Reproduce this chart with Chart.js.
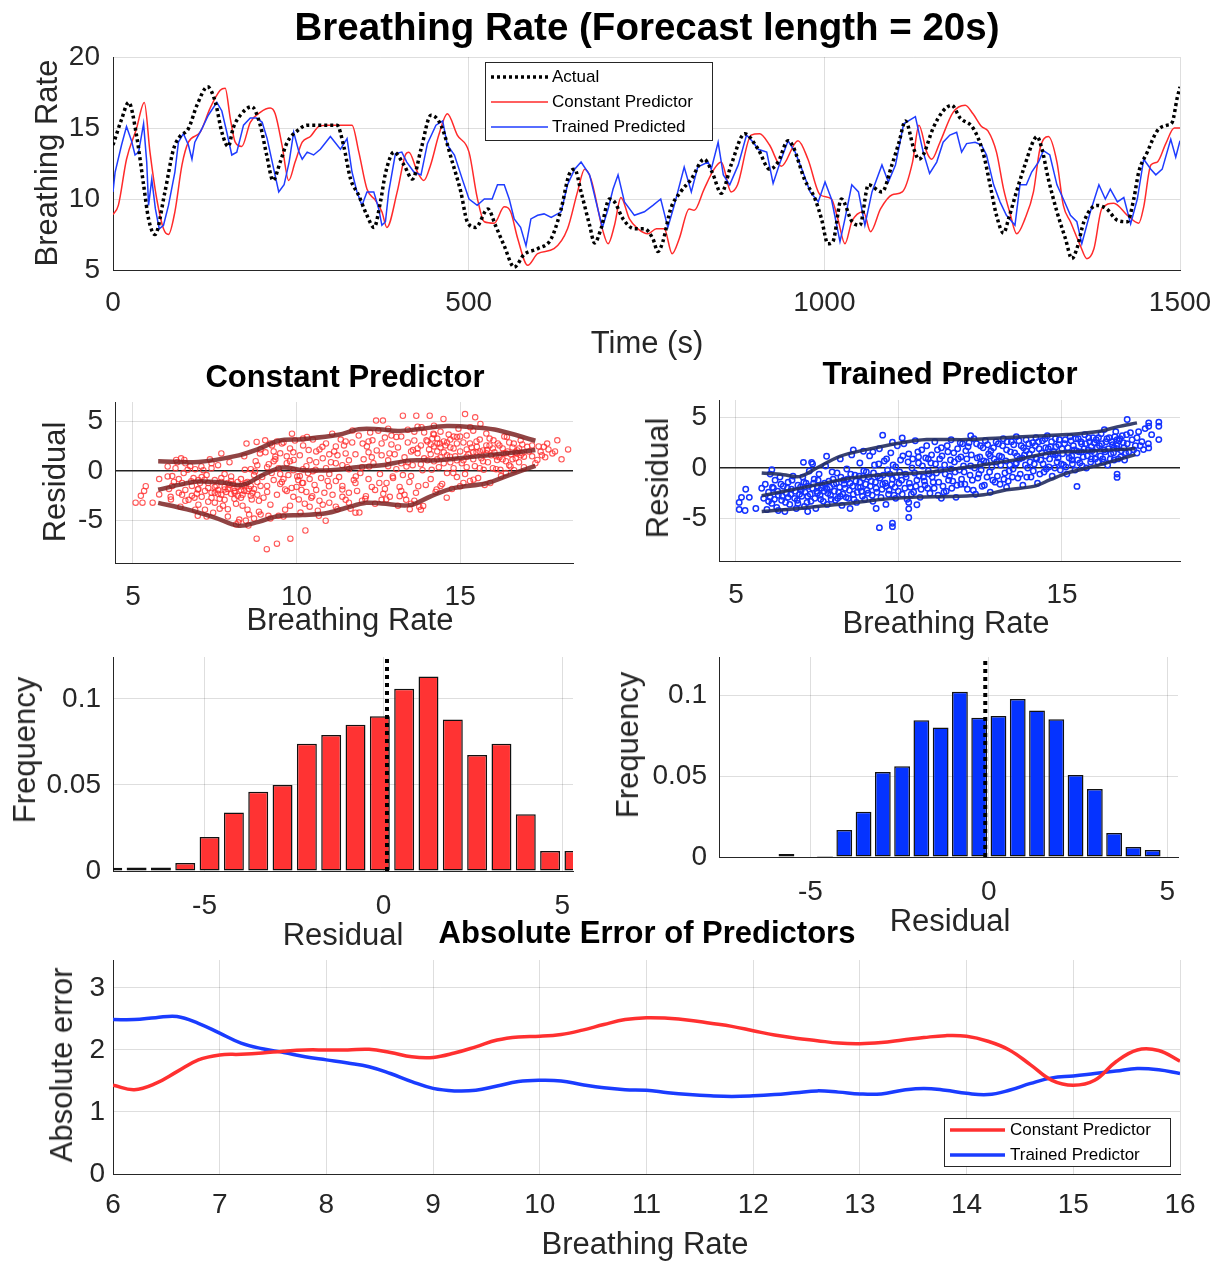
<!DOCTYPE html>
<html>
<head>
<meta charset="utf-8">
<script src="https://cdn.jsdelivr.net/npm/chart.js@4.4.0/dist/chart.umd.min.js"></script>
<style>
  body { margin: 0; background: #fff; width: 1222px; height: 1263px; position: relative; overflow: hidden;
         font-family: "Liberation Sans", Arial, sans-serif; color: #262626; }
  canvas { position: absolute; }
  .t { position: absolute; white-space: nowrap; transform: translate(-50%, -50%); font-size: 31px; }
  .b { font-weight: bold; color: #000; }
  .r { transform: translate(-50%, -50%) rotate(-90deg); }
</style>
</head>
<body>
<canvas id="series"></canvas>
<canvas id="constScatter"></canvas>
<canvas id="trainedScatter"></canvas>
<canvas id="constHist"></canvas>
<canvas id="trainedHist"></canvas>
<canvas id="absError"></canvas>

<div class="t b" style="left:647px;top:27px;font-size:38.5px">Breathing Rate (Forecast length = 20s)</div>
<div class="t r" style="left:47px;top:163px">Breathing Rate</div>
<div class="t" style="left:647px;top:343px">Time (s)</div>
<div class="t b" style="left:345px;top:377px">Constant Predictor</div>
<div class="t r" style="left:55px;top:482px">Residual</div>
<div class="t" style="left:350px;top:620px">Breathing Rate</div>
<div class="t b" style="left:950px;top:374px">Trained Predictor</div>
<div class="t r" style="left:658px;top:478px">Residual</div>
<div class="t" style="left:946px;top:623px">Breathing Rate</div>
<div class="t r" style="left:25px;top:750px">Frequency</div>
<div class="t" style="left:343px;top:935px">Residual</div>
<div class="t r" style="left:628px;top:745px">Frequency</div>
<div class="t" style="left:950px;top:921px">Residual</div>
<div class="t b" style="left:647px;top:933px">Absolute Error of Predictors</div>
<div class="t r" style="left:62px;top:1065px">Absolute error</div>
<div class="t" style="left:645px;top:1244px">Breathing Rate</div>

<script>
// ---- breathing rate over time: [seconds, breaths/min] ----
const actual = [[0,13.8],[12,15.6],[22,16.8],[33,14.5],[43,11.0],[50,8.6],[59,7.5],[73,10.5],[85,13.5],[94,14.4],[106,14.95],[118,16.6],[133,17.9],[144,16.8],[153,14.7],[162,13.7],[169,15.0],[179,15.9],[195,16.5],[207,15.2],[216,13.1],[225,11.3],[235,12.6],[245,14.0],[259,14.8],[273,15.2],[315,15.2],[324,13.8],[334,11.4],[345,10.3],[357,8.85],[367,8.0],[376,9.8],[383,11.8],[395,13.3],[409,12.4],[421,11.4],[433,13.5],[447,15.9],[461,15.2],[477,12.6],[489,10.5],[498,8.4],[510,8.0],[527,9.3],[538,8.1],[550,6.7],[564,5.2],[578,6.1],[597,6.5],[616,7.2],[630,9.3],[641,11.7],[649,12.1],[658,10.5],[670,8.15],[677,6.9],[686,7.9],[698,10.0],[705,9.8],[717,8.6],[733,7.9],[747,7.9],[759,7.2],[766,6.3],[773,7.0],[784,9.3],[798,10.5],[813,11.4],[831,12.8],[843,11.8],[855,10.4],[869,12.4],[888,14.6],[907,13.5],[923,12.1],[935,12.6],[949,14.1],[956,13.7],[972,11.4],[987,10.0],[996,8.6],[1005,6.85],[1012,7.0],[1024,10.0],[1039,8.4],[1050,8.15],[1062,11.0],[1081,10.5],[1095,12.4],[1105,14.0],[1114,15.5],[1126,13.5],[1133,12.8],[1139,13.1],[1153,15.0],[1167,16.2],[1179,16.6],[1191,15.7],[1209,15.0],[1223,13.3],[1233,11.0],[1242,8.85],[1252,7.6],[1259,8.6],[1270,10.5],[1282,12.4],[1294,14.1],[1299,14.4],[1306,13.5],[1315,11.4],[1327,9.1],[1339,7.2],[1348,5.8],[1355,6.5],[1365,8.4],[1383,9.55],[1397,9.3],[1412,8.5],[1426,8.4],[1435,10.0],[1442,11.9],[1454,13.3],[1468,14.8],[1482,15.2],[1489,15.4],[1496,17.1],[1500,17.9]];

const constantPred = [[0,8.9],[7.5,9.55],[19,12.8],[33,14.95],[44,16.8],[52,13.3],[61.5,10.0],[71,7.9],[78,7.5],[87,9.1],[97,12.4],[106,14.0],[122.5,14.7],[136.6,16.4],[150.7,17.65],[157.7,17.8],[164.8,15.7],[171.8,14.0],[181,13.7],[193,15.4],[207,16.1],[221,16.4],[228,16.0],[237.6,13.8],[247,11.3],[256,12.6],[266,14.0],[277.5,14.4],[289,15.1],[300,15.2],[336,15.2],[345.6,13.3],[357,10.7],[369,9.9],[378,9.1],[385,8.0],[399.5,10.5],[411,13.1],[416,13.3],[428,11.9],[437,11.3],[446.5,12.4],[458,14.5],[470,16.0],[484,14.5],[500.5,13.3],[512,10.1],[522,8.4],[536,8.3],[550,9.45],[559,9.1],[569,7.2],[583,5.33],[597,6.15],[620,6.5],[639,7.9],[653,10.5],[663,12.1],[672,11.4],[689,7.7],[696,6.85],[705,8.15],[714,10.1],[726,8.6],[738,7.9],[752,7.55],[764,7.9],[775,7.9],[786,6.15],[796,7.2],[810,9.3],[817,9.2],[831,10.7],[845,12.1],[855,12.6],[869,10.5],[878,11.0],[897,14.5],[909,14.6],[923,13.8],[939.5,12.3],[963,14.1],[977,12.8],[994,10.3],[1010,10.0],[1019,8.6],[1029,6.85],[1038.6,8.4],[1055,9.1],[1065,7.7],[1079,9.3],[1095.5,10.3],[1109.6,10.5],[1124,12.6],[1133,15.2],[1144,13.3],[1151,12.8],[1162.6,14.0],[1181,16.1],[1198,16.6],[1209,16.0],[1221,15.1],[1230,14.8],[1242,13.3],[1252,10.7],[1261,9.0],[1270.4,7.55],[1282,8.6],[1294,10.5],[1303,13.5],[1315,14.4],[1327,12.6],[1336,9.55],[1346,8.4],[1360,6.7],[1369,5.8],[1379,6.5],[1390,9.3],[1407,9.7],[1426,8.85],[1442,8.3],[1449,9.45],[1459,12.4],[1468,12.6],[1480,13.9],[1492,15.0],[1500,15.0]];

const trainedPred = [[0,10.5],[3,11.9],[12,13.8],[19,15.1],[26,14.1],[31,13.1],[36,13.3],[43,15.3],[47.4,12.6],[50,9.55],[54.5,11.4],[59.6,9.3],[65,7.9],[71,8.15],[78,9.55],[87,11.9],[92,14.0],[99,14.6],[106,13.8],[111,12.8],[115,14.0],[125,14.95],[134,15.9],[146,16.8],[153,16.2],[160,14.7],[167,13.1],[174,13.3],[183.5,15.2],[193,15.7],[202,15.7],[209.7,15.4],[216.7,14.25],[226,12.1],[233,10.5],[240.5,11.0],[247.6,12.6],[254,14.7],[261.5,13.3],[266,12.8],[273,13.3],[282,13.1],[291.5,13.5],[305.6,14.4],[319.7,13.5],[329,14.25],[336,11.9],[343,10.5],[350,9.55],[357,10.5],[366.6,10.5],[373.6,9.3],[378,8.15],[383,8.4],[387.6,10.5],[397,13.2],[406,13.3],[413,12.6],[423,11.9],[433,11.7],[442,13.9],[454,15.2],[463.5,15.5],[470,13.8],[480,13.1],[491,11.4],[500.5,10.0],[512,9.55],[522,10.0],[533,10.0],[540.5,11.0],[550,11.0],[557,10.0],[564,8.6],[573,8.0],[580.6,6.7],[587.5,8.6],[597,8.85],[606,8.95],[616,8.7],[630,9.1],[639,11.0],[649,12.1],[658,12.6],[670,11.7],[681.5,9.3],[688,8.0],[696,9.3],[703,10.7],[710,11.7],[719,9.8],[733,8.85],[747,9.1],[759,9.55],[770,10.0],[780,8.0],[789,9.55],[803,12.25],[813,10.5],[822,12.25],[836.5,12.6],[841,12.1],[850.7,14.0],[858,11.7],[867,11.0],[879,12.4],[890.6,14.5],[900,14.0],[907,13.5],[919,13.3],[928,11.1],[938,12.6],[949,14.1],[959,13.3],[970,11.9],[980,10.5],[991.5,9.8],[1001,11.2],[1010,10.0],[1022,7.0],[1029,8.6],[1038.6,11.0],[1048,10.5],[1057,8.15],[1067,10.5],[1081,12.4],[1090,11.2],[1100,12.4],[1111.5,15.3],[1128,15.8],[1139,13.3],[1148,11.8],[1158,12.6],[1167,14.0],[1176.5,14.5],[1186,14.7],[1193,13.3],[1200,13.9],[1212,14.0],[1221,13.8],[1228,13.1],[1238,11.0],[1247,9.8],[1256,8.85],[1268,8.15],[1275,11.0],[1284,11.0],[1291.5,11.9],[1301,12.6],[1308,13.4],[1317,13.1],[1327,11.0],[1336,10.0],[1346,8.85],[1355,8.4],[1362,6.85],[1374,9.1],[1386,11.0],[1395,10.0],[1402,10.7],[1412,9.8],[1421,10.1],[1430.6,8.25],[1440,10.0],[1449,12.8],[1459,12.1],[1466,11.7],[1475,12.1],[1487,14.2],[1494,12.95],[1500,14.1]];

// ---- residual vs breathing rate: [rate, residual] ----
const constResiduals = [[5.08,-3.19],[5.29,-3.19],[5.24,-2.5],[5.34,-2.0],[5.39,-1.53],[5.6,-3.19],[5.8,-0.8],[5.8,-2.36],[6.06,0.47],[6.06,-0.53],[6.16,-2.86],[6.32,1.13],[6.47,1.3],[6.57,1.13],[6.67,0.13],[6.78,-1.03],[6.88,-2.69],[6.98,-4.52],[7.09,0.47],[6.98,-1.86],[7.19,-0.86],[7.4,0.8],[7.5,-3.19],[7.7,1.79],[7.8,-1.86],[7.9,-3.85],[8.0,-0.53],[8.11,-2.19],[8.22,-5.18],[8.32,-1.53],[8.42,0.13],[8.47,2.79],[8.53,-5.51],[8.63,-2.86],[8.73,-0.03],[8.78,2.96],[8.78,-6.84],[8.88,1.79],[8.99,-2.69],[9.04,3.12],[9.09,-7.9],[9.14,-4.52],[9.24,-0.2],[9.35,1.46],[9.4,-7.34],[9.45,-4.52],[9.55,2.79],[9.65,-1.86],[9.81,-6.84],[9.86,3.79],[9.91,1.13],[10.02,-0.53],[10.07,-2.86],[10.12,-4.19],[10.17,-1.2],[10.27,-6.01],[10.32,3.46],[10.37,2.13],[10.48,-2.53],[10.58,0.13],[10.68,-4.52],[10.79,2.46],[10.89,-5.02],[10.99,-1.53],[11.09,3.79],[11.2,0.8],[11.25,-3.85],[11.4,-1.86],[11.5,1.79],[11.6,-3.19],[11.71,4.12],[11.81,-0.53],[11.92,-4.19],[12.02,2.79],[12.12,-2.53],[12.22,0.47],[12.32,3.12],[12.43,5.12],[12.53,-1.2],[12.64,5.12],[12.74,-2.86],[12.84,1.79],[12.94,-0.53],[13.05,3.46],[13.15,-2.53],[13.25,5.61],[13.36,0.47],[13.46,-3.85],[13.56,2.13],[13.66,5.61],[13.72,-1.53],[13.82,4.45],[13.87,-3.52],[13.97,3.12],[14.07,5.61],[14.13,0.13],[14.18,3.79],[14.28,-1.86],[14.38,2.79],[14.49,5.28],[14.59,-2.69],[14.69,1.46],[14.79,-0.2],[14.9,3.46],[15.0,-1.53],[15.15,5.78],[15.2,1.46],[15.31,4.45],[15.41,-0.86],[15.46,5.45],[15.51,2.46],[15.62,4.78],[15.72,0.13],[15.82,2.13],[15.92,-1.2],[16.02,3.12],[16.13,1.13],[16.23,0.13],[16.33,1.79],[16.43,3.46],[16.54,0.47],[16.64,2.79],[16.74,1.79],[16.85,3.12],[16.95,1.46],[17.05,2.46],[17.36,1.13],[17.46,1.96],[17.56,2.46],[17.66,2.79],[17.82,1.79],[17.97,3.12],
[6.1,-1.8],[6.2,-0.5],[6.3,0.3],[6.4,-2.2],[6.5,-1.2],[6.6,0.8],[6.7,-2.9],[6.8,-1.5],[6.9,0.2],[7.0,-3.4],[6.45,-3.6],[6.25,-1.1],[6.55,-0.2],[6.85,-0.7],[6.95,-2.3],[6.15,-2.6],[6.35,0.9],[6.75,0.5],
[7.05,-1.2],[7.1,-2.6],[7.15,0.1],[7.2,-3.9],[7.25,-0.4],[7.3,-1.7],[7.35,1.2],[7.4,-2.2],[7.45,-4.2],[7.5,-0.9],[7.55,-1.5],[7.6,0.6],[7.65,-2.8],[7.7,-1.1],[7.75,-3.5],[7.8,-0.3],[7.85,-2.1],[7.9,-4.6],[7.95,-1.4],[7.3,-3.1],[7.6,-1.9],[7.8,-1.6],[7.7,-2.4],[7.9,-1.8],[7.4,0.3],[7.95,0.9],
[8.05,-1.3],[8.1,-2.0],[8.15,-3.3],[8.2,-1.6],[8.25,-4.9],[8.3,-0.8],[8.35,-2.4],[8.4,1.5],[8.45,-1.2],[8.5,-3.9],[8.55,-1.8],[8.6,0.2],[8.65,-2.2],[8.7,-4.8],[8.75,1.0],[8.8,-1.1],[8.85,-3.0],[8.9,2.2],[8.95,-0.6],[8.1,-1.7],[8.2,-2.5],[8.3,-1.9],[8.4,-1.4],[8.5,-2.0],[8.6,-1.5],[8.7,-0.4],[8.8,0.6],[8.9,-4.4],[8.15,-5.4],[8.45,-5.0],
[9.05,1.9],[9.1,-1.5],[9.15,0.7],[9.2,-3.4],[9.25,2.6],[9.3,-0.9],[9.35,1.2],[9.4,-2.4],[9.45,0.3],[9.5,1.8],[9.55,-1.1],[9.6,2.9],[9.65,-3.9],[9.7,0.8],[9.75,-0.4],[9.8,2.3],[9.85,-1.7],[9.9,0.1],[9.95,3.1],[9.1,0.4],[9.3,2.0],[9.5,-0.3],[9.7,1.5],[9.9,-2.6],[9.2,-4.8],[9.6,-4.6],[9.4,3.0],[9.8,1.0],
[10.05,-0.9],[10.1,1.6],[10.15,-1.9],[10.2,2.6],[10.25,-3.3],[10.3,0.5],[10.35,-0.2],[10.4,1.1],[10.45,-2.7],[10.5,3.2],[10.55,-1.4],[10.6,0.9],[10.65,-4.0],[10.7,2.2],[10.75,-0.7],[10.8,1.3],[10.85,-2.2],[10.9,2.8],[10.95,-1.0],[10.1,-0.5],[10.3,-2.1],[10.5,0.0],[10.7,-3.0],[10.9,0.3],[10.2,-1.2],[10.6,2.0],
[11.05,0.9],[11.1,-2.4],[11.15,2.0],[11.2,-3.6],[11.25,1.6],[11.3,-0.6],[11.35,3.2],[11.4,-1.5],[11.45,2.6],[11.5,-2.9],[11.55,0.4],[11.6,1.1],[11.65,-3.8],[11.7,2.9],[11.75,-0.9],[11.8,1.7],[11.85,-2.0],[11.9,3.6],[11.95,-0.2],[11.2,-1.0],[11.4,0.6],[11.6,-2.2],[11.8,-4.2],[11.0,-3.2],
[12.05,1.2],[12.1,-2.8],[12.15,2.5],[12.2,-0.8],[12.25,3.9],[12.3,-1.6],[12.35,0.8],[12.4,-3.3],[12.45,2.1],[12.5,4.1],[12.55,-0.3],[12.6,1.6],[12.65,-2.3],[12.7,3.4],[12.75,-1.2],[12.8,0.5],[12.85,-2.6],[12.9,2.7],[12.95,-0.7],[12.2,1.9],[12.4,-1.9],[12.6,-2.9],[12.8,1.1],
[13.05,0.2],[13.1,2.4],[13.15,-1.6],[13.2,3.5],[13.25,-0.4],[13.3,1.4],[13.35,-2.9],[13.4,4.2],[13.45,-1.1],[13.5,2.0],[13.55,0.6],[13.6,3.1],[13.65,-2.2],[13.7,1.8],[13.75,-3.6],[13.8,2.6],[13.85,0.1],[13.9,3.9],[13.95,-1.4],[13.2,-2.0],[13.6,-3.0],[13.8,-3.9],[13.4,0.9],[13.7,4.5],[13.9,1.3],
[14.05,2.2],[14.1,-0.8],[14.15,3.3],[14.2,1.0],[14.25,-2.1],[14.3,2.8],[14.35,0.4],[14.4,4.0],[14.45,-1.3],[14.5,1.9],[14.55,2.6],[14.6,-0.2],[14.65,3.7],[14.7,0.9],[14.75,-1.8],[14.8,2.3],[14.85,1.5],[14.9,-0.6],[14.95,4.3],[14.1,1.7],[14.3,2.0],[14.5,3.0],[14.7,2.4],[14.9,1.1],[14.2,2.5],[14.4,1.4],[14.6,2.9],[14.8,3.5],
[15.05,0.8],[15.1,2.9],[15.15,-0.3],[15.2,3.6],[15.25,1.7],[15.3,-1.0],[15.35,2.4],[15.4,4.1],[15.45,0.5],[15.5,1.9],[15.55,-0.7],[15.6,3.2],[15.65,1.3],[15.7,2.1],[15.75,-1.4],[15.8,3.8],[15.85,0.9],[15.9,2.6],[15.95,1.6],[15.2,2.2],[15.4,1.2],[15.6,0.3],[15.8,1.8],
[16.05,1.9],[16.1,0.2],[16.15,2.8],[16.2,1.4],[16.25,-0.5],[16.3,2.3],[16.35,3.5],[16.4,1.0],[16.45,2.0],[16.5,0.6],[16.55,1.7],[16.6,2.4],[16.65,0.1],[16.7,1.3],[16.75,2.1],[16.8,0.9],[16.85,1.6],[16.9,2.7],[16.95,0.4],[16.2,2.6],[16.4,1.8],[16.6,1.2],[16.8,2.3],
[17.1,2.0],[17.2,1.5],[17.4,2.5],[17.5,1.6],[17.7,2.2],[17.9,2.0],[18.1,1.2],[18.3,2.2],
[6.2,-1.5],[6.4,-0.8],[6.6,-1.9],[6.8,-2.5],[7.0,-1.8],[7.1,-0.6],[7.2,-2.0],[7.3,-1.2],[7.4,-2.7],[7.5,-1.6],[7.6,-2.3],[7.7,-0.7],[7.8,-2.9],[7.9,-1.2],[8.0,-2.3],[8.1,-2.8],[8.2,-1.1],[8.3,-2.7],[8.4,-2.0],[8.5,-1.1],[8.6,-2.5],[8.7,-1.8],[8.8,-2.4],[8.9,-1.5],[8.0,-1.0],[7.5,-2.2],[7.0,-0.9],[6.5,-2.4],[8.35,-3.5],[7.65,-3.8],[8.85,-4.1],[6.9,-3.9],[7.25,-4.6],[6.6,-3.0],[8.55,-4.4],
[9.1,-2.1],[9.3,1.0],[9.5,-1.3],[9.7,-2.0],[9.9,1.9],[10.0,-1.6],[10.2,0.2],[10.4,-0.8],[10.6,-1.9],[10.8,-3.4],[11.0,1.7],[11.2,2.5],[11.4,-2.6],[11.6,0.2],[11.8,-1.2],[12.0,-3.0],[9.2,2.8],[9.8,-3.5],[10.4,-3.6],[11.0,-0.3],[11.5,3.0],[10.2,3.3],[9.6,-0.8],
[12.0,0.4],[12.3,1.4],[12.6,2.8],[12.9,3.6],[13.0,1.7],[13.2,0.8],[13.4,2.9],[13.5,-0.5],[13.7,2.3],[13.8,0.7],[14.0,3.0],[14.0,1.1],[14.1,2.7],[14.2,3.7],[14.3,1.2],[14.3,3.3],[14.4,2.4],[14.5,0.8],[14.6,1.6],[14.7,3.2],[14.8,0.3],[14.9,2.8],[15.0,2.0],[15.0,3.5],[15.1,1.1],[15.2,0.4],[15.3,2.8],[15.4,1.9],[15.5,3.0],[15.6,2.0],[15.7,1.0],[15.8,2.6],[15.9,3.3],[16.0,2.3],[16.1,1.5],[16.3,1.2],[16.5,2.9],[16.7,1.9],[13.3,-2.4],[13.5,-3.3],[13.1,-3.5],[12.7,-1.8],[14.4,-1.5],[15.1,-1.2],[16.0,0.3],[16.4,-0.2],[14.2,4.6],[13.6,4.0],[12.8,4.3],[12.2,3.0],[16.9,1.8],[17.2,2.6],[17.6,1.4],[17.3,0.8]];

const constBandUpper = [[5.77,1.0],[7.0,0.93],[8.23,1.6],[8.84,2.25],[9.45,3.08],[10.18,3.24],[11.28,3.68],[11.9,4.24],[12.5,4.24],[13.1,4.07],[13.7,4.24],[14.6,4.57],[15.55,4.4],[16.16,4.14],[17.3,3.08]];
const constBandMid = [[5.77,-1.89],[6.4,-1.39],[7.0,-1.06],[7.74,-1.16],[8.35,-1.39],[8.96,-0.4],[9.57,0.36],[10.18,0.1],[11.04,0.1],[11.9,0.43],[12.6,0.6],[13.48,1.09],[14.3,1.09],[15.3,1.42],[16.28,1.75],[17.3,2.15]];
const constBandLower = [[5.77,-3.21],[6.65,-3.87],[7.5,-4.7],[8.23,-5.53],[8.84,-5.13],[9.45,-4.54],[10.18,-4.44],[10.9,-4.27],[11.52,-3.71],[12.13,-3.21],[12.6,-3.28],[13.48,-3.44],[14.1,-2.55],[14.8,-1.72],[15.8,-1.23],[16.5,-0.4],[17.3,0.53]];

const trainedResiduals = [[5.1,-3.4],[5.17,-2.9],[5.3,-2.1],[5.41,-2.9],[5.28,-4.2],[5.1,-4.1],[5.61,-4.0],[5.79,-2.0],[6.1,-0.17],[7.07,0.56],[7.32,0.56],[7.78,1.16],[8.91,1.66],[9.5,3.25],[9.8,2.55],[10.1,2.98],[9.4,-5.9],[9.8,-5.46],[9.8,-5.8],[10.3,-4.9],[10.3,-4.04],[10.55,-3.64],[16.69,-0.6],[16.69,-0.93],[15.46,-1.82],[17.0,4.8],[17.66,4.47],[17.66,4.14],[17.97,4.54],[17.97,4.14],[17.97,2.81],[17.5,1.82],[17.66,1.99],[17.3,1.49],[16.69,2.81],
[5.85,-3.0],[5.9,-1.6],[5.95,-4.1],[6.0,-2.4],[6.05,-0.6],[6.1,-3.5],[6.15,-2.0],[6.2,-1.2],[6.25,-3.9],[6.3,-2.7],[6.35,-0.9],[6.4,-3.2],[6.45,-1.8],[6.5,-4.3],[6.55,-2.5],[6.6,-1.4],[6.65,-3.6],[6.7,-2.1],[6.75,-0.8],[6.8,-3.0],[6.85,-4.0],[6.9,-1.7],[6.95,-2.6],[6.0,-3.3],[6.3,-4.2],[6.6,-2.9],[6.9,-3.5],
[7.0,-2.2],[7.05,-0.9],[7.1,-3.8],[7.15,-1.5],[7.2,-2.8],[7.25,-0.3],[7.3,-3.3],[7.35,-2.0],[7.4,-1.1],[7.45,-4.0],[7.5,-2.5],[7.55,-0.6],[7.6,-3.1],[7.65,-1.7],[7.7,-2.3],[7.75,0.2],[7.8,-3.6],[7.85,-1.3],[7.9,-2.7],[7.95,-0.4],[7.2,-4.3],[7.5,-1.9],[7.8,-2.1],[7.35,0.4],
[8.0,-1.6],[8.05,-3.2],[8.1,-0.5],[8.15,-2.4],[8.2,0.9],[8.25,-3.7],[8.3,-1.2],[8.35,-2.0],[8.4,-0.1],[8.45,-3.0],[8.5,-1.5],[8.55,1.3],[8.6,-2.6],[8.65,-0.7],[8.7,-3.4],[8.75,-1.9],[8.8,0.5],[8.85,-2.3],[8.9,-1.0],[8.95,-3.1],[8.2,-2.8],[8.5,-4.0],[8.8,-1.4],[8.6,1.8],
[9.0,-0.4],[9.05,-2.5],[9.1,1.2],[9.15,-1.3],[9.2,-3.3],[9.25,0.3],[9.3,-2.0],[9.35,-0.8],[9.4,1.9],[9.45,-2.9],[9.5,-1.6],[9.55,0.7],[9.6,-3.6],[9.65,-0.2],[9.7,-2.2],[9.75,1.5],[9.8,-1.1],[9.85,-2.7],[9.9,0.1],[9.95,2.2],[9.3,-4.0],[9.6,-1.8],[9.9,-3.0],[9.2,1.6],
[10.0,-1.5],[10.05,0.8],[10.1,-2.6],[10.15,2.4],[10.2,-0.6],[10.25,-3.1],[10.3,1.4],[10.35,-1.9],[10.4,0.0],[10.45,-2.4],[10.5,2.7],[10.55,-1.2],[10.6,0.5],[10.65,-2.9],[10.7,1.8],[10.75,-0.9],[10.8,-1.7],[10.85,2.2],[10.9,-0.3],[10.95,-2.5],[10.3,-3.4],[10.6,1.1],[10.9,0.9],
[11.0,1.3],[11.05,-1.4],[11.1,2.6],[11.15,-0.5],[11.2,-2.7],[11.25,0.9],[11.3,2.0],[11.35,-1.8],[11.4,0.3],[11.45,-2.3],[11.5,1.6],[11.55,-0.8],[11.6,2.8],[11.65,-1.3],[11.7,0.6],[11.75,-2.9],[11.8,1.9],[11.85,-0.2],[11.9,-1.6],[11.95,2.4],[11.3,-3.0],[11.6,-0.1],[11.9,1.1],
[12.0,-0.4],[12.05,1.7],[12.1,-2.1],[12.15,2.5],[12.2,0.2],[12.25,-1.2],[12.3,2.9],[12.35,-2.6],[12.4,1.0],[12.45,-0.6],[12.5,2.2],[12.55,-1.8],[12.6,0.7],[12.65,2.7],[12.7,-0.9],[12.75,1.4],[12.8,-2.4],[12.85,0.1],[12.9,2.0],[12.95,-1.4],[12.2,3.2],[12.5,0.4],[12.8,1.2],
[13.0,0.6],[13.05,2.4],[13.1,-1.6],[13.15,1.1],[13.2,2.9],[13.25,-0.5],[13.3,1.8],[13.35,-1.3],[13.4,0.3],[13.45,2.6],[13.5,-0.1],[13.55,1.5],[13.6,3.1],[13.65,-1.0],[13.7,0.9],[13.75,2.2],[13.8,-1.7],[13.85,1.3],[13.9,2.8],[13.95,0.0],[13.3,-1.9],[13.6,0.5],[13.9,1.7],
[14.0,1.4],[14.05,-0.9],[14.1,2.5],[14.15,0.4],[14.2,3.0],[14.25,-1.5],[14.3,1.9],[14.35,0.8],[14.4,2.7],[14.45,-0.4],[14.5,1.2],[14.55,3.2],[14.6,0.1],[14.65,2.1],[14.7,-0.8],[14.75,1.6],[14.8,2.9],[14.85,0.6],[14.9,2.3],[14.95,-0.2],[14.2,1.0],[14.5,2.0],[14.8,1.3],
[15.0,1.9],[15.05,0.3],[15.1,2.8],[15.15,-0.6],[15.2,1.5],[15.25,3.1],[15.3,0.8],[15.35,2.2],[15.4,-0.2],[15.45,1.7],[15.5,2.9],[15.55,0.5],[15.6,2.4],[15.65,1.1],[15.7,3.3],[15.75,0.0],[15.8,1.8],[15.85,2.6],[15.9,0.9],[15.95,3.0],[15.3,1.2],[15.6,1.6],[15.9,2.1],
[16.0,1.5],[16.05,2.8],[16.1,0.6],[16.15,2.2],[16.2,3.4],[16.25,0.9],[16.3,1.8],[16.35,2.6],[16.4,0.3],[16.45,3.0],[16.5,1.4],[16.55,2.3],[16.6,0.8],[16.65,3.6],[16.7,1.9],[16.75,2.7],[16.8,1.1],[16.85,3.2],[16.9,2.0],[16.95,1.5],[16.3,3.8],[16.6,2.0],
[17.0,2.4],[17.1,3.5],[17.2,1.8],[17.3,3.0],[17.4,2.2],
[6.05,-2.9],[6.12,-1.9],[6.18,-3.1],[6.28,-2.3],[6.38,-1.6],[6.42,-2.8],[6.52,-3.4],[6.58,-2.0],[6.68,-2.6],[6.72,-1.2],[6.82,-2.3],[6.88,-3.2],[6.98,-1.9],
[7.02,-2.8],[7.08,-1.4],[7.12,-2.4],[7.18,-3.4],[7.22,-1.8],[7.28,-2.6],[7.38,-1.5],[7.42,-3.0],[7.48,-2.3],[7.52,-1.2],[7.58,-2.7],[7.62,-2.0],[7.68,-3.3],[7.72,-1.5],[7.82,-2.5],[7.88,-1.9],[7.92,-3.1],[7.98,-1.1],
[8.02,-2.3],[8.08,-1.5],[8.12,-3.0],[8.18,-1.9],[8.22,-0.9],[8.28,-2.6],[8.32,-1.6],[8.38,-2.9],[8.42,-1.1],[8.48,-2.2],[8.52,-0.6],[8.58,-1.8],[8.62,-3.1],[8.68,-1.3],[8.72,-2.4],[8.78,-0.8],[8.82,-1.9],[8.88,-2.8],[8.92,-0.3],[8.98,-1.6],
[9.02,-2.2],[9.08,-0.9],[9.12,-1.8],[9.18,-2.7],[9.22,-0.5],[9.28,-1.4],[9.32,-2.4],[9.38,0.4],[9.42,-1.0],[9.48,-2.1],[9.52,-0.7],[9.58,-1.5],[9.62,0.9],[9.68,-2.6],[9.72,-0.6],[9.78,-1.6],[9.82,0.3],[9.88,-1.9],[9.92,-0.9],[9.98,-2.3],
[10.02,-0.4],[10.08,-1.2],[10.12,1.2],[10.18,-2.0],[10.22,-0.9],[10.28,0.6],[10.32,-1.5],[10.38,-2.6],[10.42,0.9],[10.48,-0.5],[10.52,-1.8],[10.58,1.6],[10.62,-0.8],[10.68,-2.1],[10.72,0.2],[10.78,-1.3],[10.82,1.0],[10.88,-2.0],[10.92,-0.6],[10.98,0.5],
[11.02,-0.9],[11.08,-2.0],[11.12,0.4],[11.18,1.8],[11.22,-1.4],[11.28,-0.2],[11.32,1.2],[11.38,-2.4],[11.42,-0.6],[11.48,2.2],[11.52,-1.2],[11.58,0.8],[11.62,-2.0],[11.68,1.5],[11.72,-0.4],[11.78,-1.7],[11.82,0.9],[11.88,2.5],[11.92,-1.1],[11.98,0.2],
[12.02,-1.6],[12.08,0.9],[12.12,2.1],[12.18,-0.7],[12.22,1.3],[12.28,-2.2],[12.32,0.0],[12.38,2.4],[12.42,-1.0],[12.48,1.1],[12.52,-0.2],[12.58,2.0],[12.62,-1.7],[12.68,0.6],[12.72,2.3],[12.78,-0.4],[12.82,1.7],[12.88,-1.2],[12.92,0.9],[12.98,2.6],
[13.02,-0.8],[13.08,1.2],[13.12,0.3],[13.18,2.2],[13.22,-1.1],[13.28,0.7],[13.32,2.6],[13.38,-0.3],[13.42,1.6],[13.48,-0.9],[13.52,2.3],[13.58,0.4],[13.62,1.2],[13.68,2.7],[13.72,-0.6],[13.78,1.0],[13.82,2.0],[13.88,0.3],[13.92,-0.9],[13.98,2.4],
[14.02,0.6],[14.08,1.8],[14.12,-0.3],[14.18,2.2],[14.22,0.9],[14.28,2.6],[14.32,-0.6],[14.38,1.5],[14.42,0.4],[14.48,2.9],[14.52,-0.1],[14.58,1.9],[14.62,0.9],[14.68,2.6],[14.72,1.4],[14.78,0.0],[14.82,2.1],[14.88,1.0],[14.92,2.8],[14.98,0.4],
[15.02,1.4],[15.08,2.4],[15.12,0.1],[15.18,2.0],[15.22,1.0],[15.28,2.7],[15.32,0.4],[15.38,1.8],[15.42,2.9],[15.48,0.8],[15.52,1.6],[15.58,2.6],[15.62,0.2],[15.68,1.9],[15.72,2.4],[15.78,1.2],[15.82,3.0],[15.88,0.6],[15.92,1.7],[15.98,2.5],
[16.02,0.9],[16.08,2.0],[16.12,3.0],[16.18,1.2],[16.22,2.4],[16.28,0.6],[16.32,1.6],[16.38,2.9],[16.42,1.9],[16.48,0.9],[16.52,2.6],[16.58,1.5],[16.62,3.1],[16.68,2.2],[16.72,0.9],[16.78,2.9],[16.82,1.7],[16.88,2.5],[16.92,0.8],[16.98,3.3],
[17.05,1.6],[17.15,2.8],[17.25,2.2],[17.35,3.6],[17.45,2.6],[17.55,3.9],[17.65,2.4],[17.75,3.3]];

const trainedBandUpper = [[5.79,-0.5],[6.45,-0.66],[6.97,-0.83],[7.48,0],[8.19,1.16],[9.0,1.82],[10.04,2.48],[10.85,2.81],[12.08,2.81],[13.1,2.98],[14.13,3.15],[15.15,3.31],[16.18,3.64],[16.69,4.07],[17.3,4.47]];
const trainedBandMid = [[5.79,-2.75],[6.45,-2.32],[7.48,-1.66],[8.5,-1.0],[9.52,-0.66],[10.55,-0.5],[11.57,-0.17],[12.6,0.33],[13.6,0.83],[14.64,1.49],[15.66,1.66],[16.69,1.82],[17.25,1.92]];
const trainedBandLower = [[5.79,-4.3],[6.45,-4.14],[7.48,-3.81],[8.5,-3.48],[9.52,-3.08],[10.55,-2.88],[11.57,-2.81],[12.6,-2.65],[13.3,-2.15],[14.13,-1.82],[14.64,-1.16],[15.15,-0.5],[16.18,0.33],[17.25,1.32]];

// ---- residual histograms: bin centres and relative frequency ----
const constBinCenters = [-7.58,-6.9,-6.22,-5.54,-4.86,-4.18,-3.5,-2.82,-2.14,-1.46,-0.78,-0.1,0.58,1.26,1.94,2.62,3.3,3.98,4.66,5.34];
const constFreq = [0.0019,0.002,0.002,0.0047,0.0198,0.034,0.046,0.050,0.074,0.079,0.085,0.090,0.106,0.113,0.088,0.0675,0.074,0.033,0.0116,0.0116];
const constMeanResidual = 0.1;

const trainedBinCenters = [-5.67,-4.59,-4.05,-3.51,-2.97,-2.43,-1.89,-1.35,-0.81,-0.27,0.27,0.81,1.35,1.89,2.43,2.97,3.51,4.05,4.59];
const trainedFreq = [0.0019,0.0006,0.0167,0.028,0.0525,0.056,0.0845,0.080,0.102,0.086,0.087,0.0975,0.0905,0.085,0.0506,0.042,0.0148,0.0062,0.0043];
const trainedMeanResidual = -0.1;

// ---- absolute error vs breathing rate ----
const errRate = [6,6.2,6.4,6.6,6.8,7,7.2,7.4,7.6,7.8,8,8.2,8.4,8.6,8.8,9,9.2,9.4,9.6,9.8,10,10.2,10.4,10.6,10.8,11,11.2,11.4,11.6,11.8,12,12.2,12.4,12.6,12.8,13,13.2,13.4,13.6,13.8,14,14.2,14.4,14.6,14.8,15,15.2,15.4,15.6,15.8,16];
const constAbsErr = [1.43,1.36,1.46,1.65,1.84,1.92,1.93,1.95,1.98,2.0,2.0,2.0,2.01,1.96,1.89,1.88,1.95,2.05,2.16,2.21,2.22,2.25,2.32,2.41,2.49,2.52,2.51,2.48,2.43,2.38,2.31,2.24,2.19,2.15,2.11,2.10,2.12,2.16,2.2,2.23,2.22,2.14,2.0,1.76,1.51,1.43,1.51,1.81,2.0,1.99,1.82];
const trainedAbsErr = [2.49,2.49,2.52,2.54,2.43,2.27,2.11,2.02,1.96,1.89,1.84,1.79,1.73,1.62,1.49,1.38,1.34,1.35,1.42,1.49,1.51,1.50,1.44,1.39,1.36,1.35,1.31,1.28,1.26,1.25,1.26,1.28,1.31,1.34,1.32,1.29,1.29,1.35,1.38,1.35,1.30,1.28,1.35,1.46,1.55,1.58,1.62,1.66,1.70,1.68,1.62];

// tick values
const timeTicks = [0, 500, 1000, 1500];
const rateTicks = [5, 10, 15, 20];
const rateAxisTicks = [5, 10, 15];
const residTicks = [-5, 0, 5];
const freqTicks = [0, 0.05, 0.1];
const histTicks = [-5, 0, 5];
const errRateTicks = [6, 7, 8, 9, 10, 11, 12, 13, 14, 15, 16];
const errTicks = [0, 1, 2, 3];

Chart.defaults.font.family = '"Liberation Sans", Arial, sans-serif';
Chart.defaults.color = '#262626';

const RED = '#ff2a2a';
const BLUE = '#1f3cff';
const GRID = 'rgba(0,0,0,0.13)';
const pts = arr => arr.map(([x, y]) => ({ x, y }));

// legend box drawn inside the plot, coordinates given in page pixels
const boxLegend = {
  id: 'boxLegend',
  afterDatasetsDraw(chart, args, o) {
    if (!o || !o.box) return;
    const ctx = chart.ctx;
    const ox = chart.canvas.offsetLeft, oy = chart.canvas.offsetTop;
    const [x, y, w, h] = [o.box[0] - ox, o.box[1] - oy, o.box[2], o.box[3]];
    ctx.save();
    ctx.fillStyle = '#fff';
    ctx.fillRect(x, y, w, h);
    ctx.strokeStyle = '#262626';
    ctx.lineWidth = 1;
    ctx.strokeRect(x + 0.5, y + 0.5, w, h);
    ctx.font = o.font;
    ctx.textBaseline = 'middle';
    o.items.forEach((idx, i) => {
      const ds = chart.data.datasets[idx];
      const yy = y + o.first + i * o.step;
      ctx.strokeStyle = ds.borderColor;
      ctx.lineWidth = ds.borderWidth;
      ctx.setLineDash(ds.borderDash || []);
      ctx.beginPath();
      ctx.moveTo(x + o.lineFrom, yy);
      ctx.lineTo(x + o.lineTo, yy);
      ctx.stroke();
      ctx.setLineDash([]);
      ctx.fillStyle = '#000';
      ctx.fillText(ds.label, x + o.textX, yy);
    });
    ctx.restore();
  }
};

// places a chart so that its plot area lands on the given page rectangle
function place(id, area, yw, xh, cfg) {
  const padTop = 14, padRight = 50;
  const cv = document.getElementById(id);
  cv.width = area.r - area.l + yw + padRight;
  cv.height = area.b - area.t + padTop + xh;
  cv.style.left = (area.l - yw) + 'px';
  cv.style.top = (area.t - padTop) + 'px';
  const o = cfg.options;
  o.responsive = false;
  o.animation = false;
  o.events = [];
  o.layout = { padding: { top: padTop, right: padRight, left: 0, bottom: 0 } };
  o.plugins = Object.assign({ legend: { display: false }, tooltip: { enabled: false } }, o.plugins || {});
  o.scales.x.afterFit = s => { s.height = xh; s.paddingLeft = 0; s.paddingRight = 0; };
  o.scales.y.afterFit = s => { s.width = yw; s.paddingTop = 0; s.paddingBottom = 0; };
  cfg.plugins = [boxLegend];
  return new Chart(cv, cfg);
}

function axis(min, max, ticks, pad, extra) {
  return Object.assign({
    type: 'linear', min, max, offset: false,
    afterBuildTicks: s => { s.ticks = ticks.map(v => ({ value: v })); },
    grid: { color: GRID, drawTicks: false, offset: false },
    border: { display: true, color: '#262626', width: 1 },
    ticks: { padding: pad, font: { size: 28 }, color: '#262626', callback: v => String(v) }
  }, extra || {});
}

const zeroGrid = { color: c => (c.tick && c.tick.value === 0) ? '#222' : GRID, lineWidth: c => (c.tick && c.tick.value === 0) ? 1.5 : 1, drawTicks: false };

// time series
place('series', { l: 113, t: 57, r: 1180, b: 270 }, 113, 80, {
  type: 'line',
  data: { datasets: [
    { label: 'Actual', data: pts(actual), borderColor: '#000', borderWidth: 3.5, borderDash: [3, 3], cubicInterpolationMode: 'monotone', pointRadius: 0, order: 0 },
    { label: 'Constant Predictor', data: pts(constantPred), borderColor: RED, borderWidth: 1.5, cubicInterpolationMode: 'monotone', pointRadius: 0, order: 2 },
    { label: 'Trained Predicted', data: pts(trainedPred), borderColor: BLUE, borderWidth: 1.5, tension: 0, pointRadius: 0, order: 1 }
  ] },
  options: {
    scales: { x: axis(0, 1500, timeTicks, 16), y: axis(5, 20, rateTicks, 13) },
    plugins: { boxLegend: { box: [485, 62, 227, 78], font: '17px "Liberation Sans", Arial, sans-serif', items: [0, 1, 2], first: 15, step: 25, lineFrom: 6, lineTo: 63, textX: 67 } }
  }
});

function residualChart(id, area, points, bands, ptColor, ptWidth, bandColor, bandWidth, xr, yr) {
  const ds = [{ type: 'scatter', data: pts(points), showLine: false, pointStyle: 'circle', pointRadius: 2.7, pointBorderWidth: ptWidth, pointBorderColor: ptColor, pointBackgroundColor: 'rgba(0,0,0,0)', order: 3 }];
  bands.forEach(b => ds.push({ type: 'line', data: pts(b), borderColor: bandColor, borderWidth: bandWidth, tension: 0.35, pointRadius: 0, order: 1 }));
  place(id, area, area.l - (id === 'constScatter' ? 0 : 606), 70, {
    type: 'scatter',
    data: { datasets: ds },
    options: {
      scales: {
        x: axis(xr[0], xr[1], rateAxisTicks, 17),
        y: axis(yr[0], yr[1], residTicks, 12, { grid: zeroGrid })
      }
    }
  });
}

residualChart('constScatter', { l: 115, t: 402, r: 573, b: 563 }, constResiduals,
  [constBandUpper, constBandMid, constBandLower], 'rgba(255,45,45,0.8)', 1.1, 'rgba(125,35,35,0.85)', 4.5, [4.45, 18.45], [-9.3, 7.0]);
residualChart('trainedScatter', { l: 719, t: 400, r: 1180, b: 561 }, trainedResiduals,
  [trainedBandUpper, trainedBandMid, trainedBandLower], 'rgb(20,50,255)', 1.5, 'rgba(35,45,95,0.9)', 3.5, [4.48, 18.62], [-9.2, 6.73]);

function histChart(id, area, yw, centers, freq, mean, fill, yMax) {
  place(id, area, yw, 70, {
    type: 'bar',
    data: { datasets: [
      { type: 'line', data: [{ x: mean, y: 0 }, { x: mean, y: yMax }], borderColor: '#000', borderWidth: 4, borderDash: [4, 4], pointRadius: 0, order: 0 },
      { type: 'bar', data: centers.map((c, i) => ({ x: c, y: freq[i] })), backgroundColor: fill, borderColor: '#111', borderWidth: 1.5, borderSkipped: false, barPercentage: 0.82, categoryPercentage: 1, order: 1 }
    ] },
    options: {
      scales: { x: axis(-7.56, 5.3, histTicks, 18), y: axis(0, yMax, freqTicks, 12) }
    }
  });
}

histChart('constHist', { l: 113, t: 657, r: 573, b: 871 }, 113, constBinCenters, constFreq, constMeanResidual, '#ff3333', 0.1244);
histChart('trainedHist', { l: 719, t: 657, r: 1178, b: 857 }, 113, trainedBinCenters, trainedFreq, trainedMeanResidual, '#0533ff', 0.1235);

// absolute error curves
place('absError', { l: 113, t: 960, r: 1180, b: 1174 }, 113, 70, {
  type: 'line',
  data: { datasets: [
    { label: 'Constant Predictor', data: errRate.map((x, i) => ({ x, y: constAbsErr[i] })), borderColor: '#ff3030', borderWidth: 3.5, tension: 0.4, pointRadius: 0 },
    { label: 'Trained Predictor', data: errRate.map((x, i) => ({ x, y: trainedAbsErr[i] })), borderColor: '#1a3cff', borderWidth: 3.5, tension: 0.4, pointRadius: 0 }
  ] },
  options: {
    scales: { x: axis(6, 16, errRateTicks, 14), y: axis(0, 3.45, errTicks, 8) },
    plugins: { boxLegend: { box: [944, 1118, 226, 48], font: '17px "Liberation Sans", Arial, sans-serif', items: [0, 1], first: 12, step: 25, lineFrom: 6, lineTo: 61, textX: 66 } }
  }
});
</script>
</body>
</html>
